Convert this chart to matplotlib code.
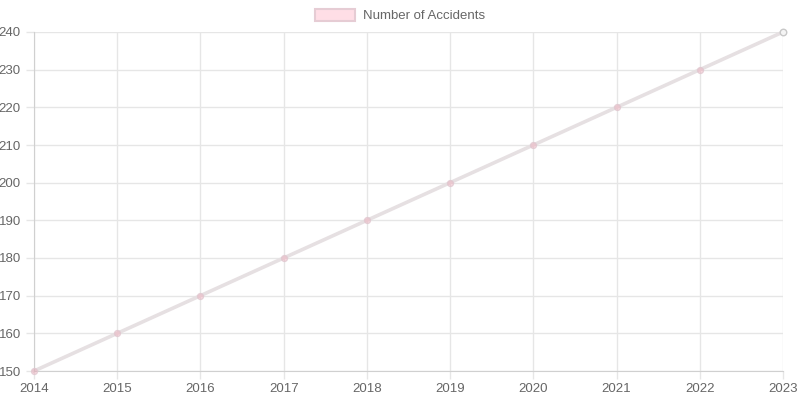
import matplotlib.pyplot as plt
from matplotlib.patches import Patch

years = [2014, 2015, 2016, 2017, 2018, 2019, 2020, 2021, 2022, 2023]
accidents = [150, 160, 170, 180, 190, 200, 210, 220, 230, 240]

LINE_COLOR = "#e6e0e2"
POINT_FILL = (1.0, 0.39, 0.52, 0.2)
GRID_COLOR = "#e6e6e6"
TEXT_COLOR = "#666666"

plt.rcParams["font.family"] = ["Liberation Sans", "DejaVu Sans"]

fig = plt.figure(figsize=(8, 4), dpi=100)
ax = fig.add_axes([34 / 800, 1 - 371 / 400, (783 - 34) / 800, (371 - 32) / 400])

ax.plot(years, accidents, color=LINE_COLOR, linewidth=2.6, zorder=2, clip_on=False)
ax.scatter(years[:-1], accidents[:-1], s=18, facecolor=POINT_FILL,
           edgecolor=(0.88, 0.78, 0.81, 0.8), linewidth=1, zorder=3, clip_on=False)
# last point drawn hollow grey like in the source image
ax.scatter(years[-1:], accidents[-1:], s=22, facecolor="#f4f4f4",
           edgecolor="#c8c8c8", linewidth=1, zorder=3, clip_on=False)

ax.set_xlim(years[0], years[-1])
ax.set_ylim(150, 240)
ax.set_xticks(years)
ax.set_yticks(range(150, 241, 10))
ax.grid(True, color=GRID_COLOR, linewidth=1)
ax.set_axisbelow(True)

for side in ("top", "right"):
    ax.spines[side].set_visible(False)
for side in ("left", "bottom"):
    ax.spines[side].set_color("#d0d0d0")
ax.tick_params(colors=GRID_COLOR, labelcolor=TEXT_COLOR, labelsize=9.5, length=6, width=1)
ax.tick_params(axis="x", pad=3)

handle = Patch(facecolor=(1.0, 0.87, 0.9), edgecolor=(0.9, 0.8, 0.83), linewidth=1.5,
               label="Number of Accidents")
fig.legend(handles=[handle], loc="upper center", bbox_to_anchor=(0.5, 1.007), frameon=False,
           fontsize=9.5, labelcolor=TEXT_COLOR, handlelength=3.0, handleheight=1.0,
           handletextpad=0.6)

fig.savefig("out.png", dpi=100)
